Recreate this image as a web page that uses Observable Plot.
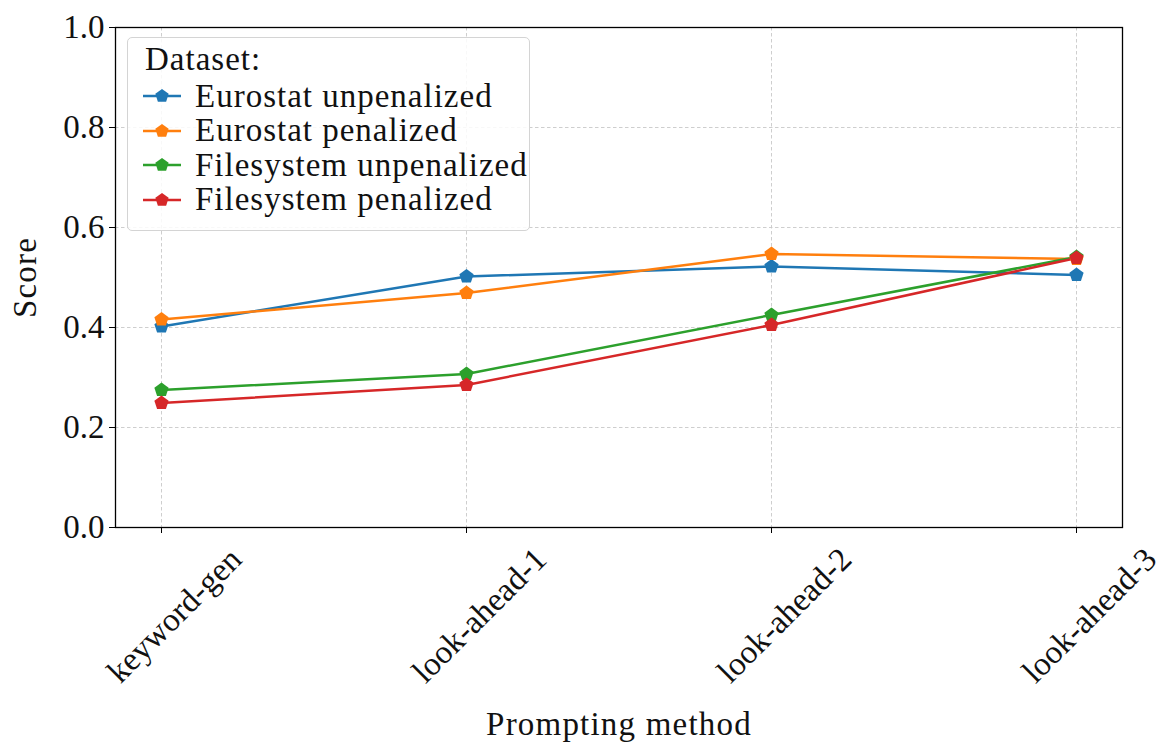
<!DOCTYPE html>
<html>
<head>
<meta charset="utf-8">
<script src="https://cdn.jsdelivr.net/npm/d3@7"></script>
<script src="https://cdn.jsdelivr.net/npm/@observablehq/plot@0.6"></script>
<style>
  html, body { margin: 0; padding: 0; background: #fff; }
  #wrap { position: relative; width: 1162px; height: 742px; font-family: "Liberation Serif", "DejaVu Serif", serif; }
  #legend { position: absolute; left: 127px; top: 37px; width: 403px; height: 194px; border: 1.5px solid #d4d4d4; border-radius: 5px; background: rgba(255,255,255,0.85); box-sizing: border-box; font-size: 33px; color: #111; letter-spacing: 1px; }
  #legend .title { position: absolute; left: 17px; top: 3px; }
  #legend .item { position: absolute; left: 14px; height: 34px; display: flex; align-items: center; white-space: nowrap; }
  #legend .item svg { margin-right: 13px; }
  .axis-title text { letter-spacing: 1.2px; }
</style>
</head>
<body>
<div id="wrap"></div>
<script>
const methods = ["keyword-gen", "look-ahead-1", "look-ahead-2", "look-ahead-3"];
const seriesNames = ["Eurostat unpenalized", "Eurostat penalized", "Filesystem unpenalized", "Filesystem penalized"];
const seriesColors = ["#1f77b4", "#ff7f0e", "#2ca02c", "#d62728"];
const eurostatUnpenalized = [0.402, 0.502, 0.522, 0.505];
const eurostatPenalized = [0.416, 0.469, 0.547, 0.537];
const filesystemUnpenalized = [0.275, 0.307, 0.425, 0.541];
const filesystemPenalized = [0.249, 0.285, 0.405, 0.539];
const yTicks = [0, 0.2, 0.4, 0.6, 0.8, 1.0];

const seriesValues = [eurostatUnpenalized, eurostatPenalized, filesystemUnpenalized, filesystemPenalized];
const data = [];
seriesNames.forEach((s, i) => methods.forEach((m, j) => data.push({series: s, method: m, score: seriesValues[i][j]})));

const pentagon = {
  draw(context, size) {
    const R = Math.sqrt(size / Math.PI);
    for (let k = 0; k < 5; k++) {
      const a = -Math.PI / 2 + k * 2 * Math.PI / 5;
      const x = R * Math.cos(a), y = R * Math.sin(a);
      if (k === 0) context.moveTo(x, y); else context.lineTo(x, y);
    }
    context.closePath();
  }
};

const font = "Liberation Serif, DejaVu Serif, serif";
const plot = Plot.plot({
  width: 1162,
  height: 742,
  marginLeft: 115,
  marginRight: 40,
  marginTop: 27,
  marginBottom: 215,
  style: {fontFamily: font, fontSize: "33px", color: "#111", background: "white"},
  x: {type: "point", domain: methods, padding: 0.15},
  y: {domain: [0, 1]},
  color: {domain: seriesNames, range: seriesColors},
  marks: [
    Plot.gridY(yTicks, {stroke: "#c8c8c8", strokeOpacity: 1, strokeWidth: 0.9, strokeDasharray: "3.5,2.5"}),
    Plot.gridX(methods, {stroke: "#c8c8c8", strokeOpacity: 1, strokeWidth: 0.9, strokeDasharray: "3.5,2.5"}),
    Plot.axisY(yTicks, {tickFormat: d3.format(".1f"), tickSize: 6, tickPadding: 5, label: null, fontSize: 33, stroke: "black"}),
    Plot.axisX(methods, {tickSize: 6, label: null, text: null, stroke: "black"}),
    Plot.text(methods, {x: d => d, frameAnchor: "bottom", dy: 88, dx: 13, rotate: -45, textAnchor: "middle", lineAnchor: "middle", fontSize: 33}),
    Plot.text(["Score"], {frameAnchor: "left", dx: -90, rotate: -90, text: d => d, textAnchor: "middle", lineAnchor: "middle", fontSize: 33, className: "axis-title"}),
    Plot.text(["Prompting method"], {frameAnchor: "bottom", dy: 197, text: d => d, textAnchor: "middle", lineAnchor: "middle", fontSize: 33, className: "axis-title"}),
    Plot.line(data, {x: "method", y: "score", z: "series", stroke: "series", strokeWidth: 2.5}),
    Plot.dot(data, {x: "method", y: "score", fill: "series", symbol: pentagon, r: 7.5, stroke: "none"}),
    Plot.frame({stroke: "black", strokeWidth: 1.3})
  ]
});

const wrap = document.getElementById("wrap");
wrap.appendChild(plot);

const legend = document.createElement("div");
legend.id = "legend";
let html = '<div class="title">Dataset:</div>';
const pts = Array.from({length: 5}, (_, k) => {
  const a = -Math.PI / 2 + k * 2 * Math.PI / 5;
  return (20 + 7 * Math.cos(a)).toFixed(2) + "," + (17 + 7 * Math.sin(a)).toFixed(2);
}).join(" ");
seriesNames.forEach((s, i) => {
  html += `<div class="item" style="top:${41 + i * 34.5}px"><svg width="40" height="34"><line x1="1" y1="17" x2="39" y2="17" stroke="${seriesColors[i]}" stroke-width="2.5"/><polygon points="${pts}" fill="${seriesColors[i]}"/></svg>${s}</div>`;
});
legend.innerHTML = html;
wrap.appendChild(legend);
</script>
</body>
</html>
